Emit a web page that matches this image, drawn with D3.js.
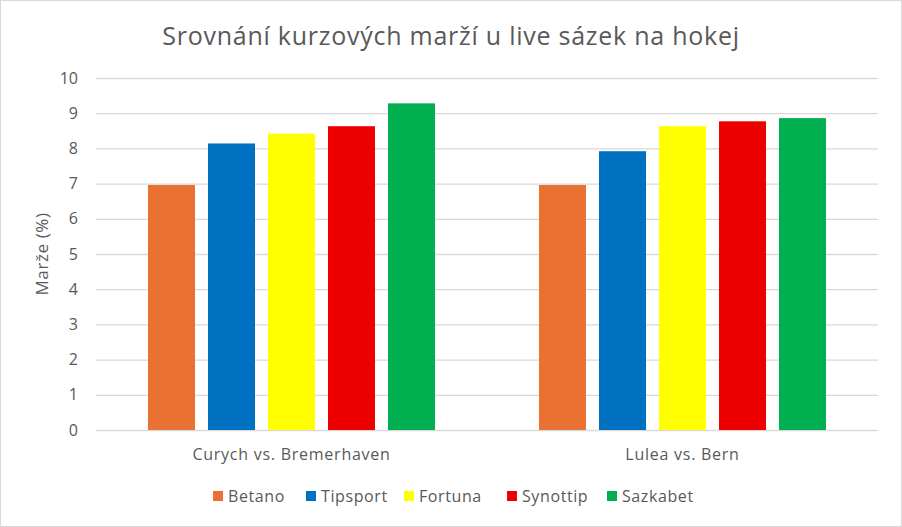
<!DOCTYPE html>
<html>
<head>
<meta charset="utf-8">
<title>Srovnání kurzových marží</title>
<style>
  body { margin: 0; background: #fff; }
  text { font-family: "Open Sans", "Noto Sans", sans-serif; fill: #595959; }
</style>
</head>
<body>
<script src="https://cdn.jsdelivr.net/npm/d3@7/dist/d3.min.js"></script>
<script>
var width = 902, height = 527;

// data
var categories = ["Curych vs. Bremerhaven", "Lulea vs. Bern"];
var series = ["Betano", "Tipsport", "Fortuna", "Synottip", "Sazkabet"];
var colors = ["#E97132", "#0070C0", "#FFFF00", "#EE0000", "#00B050"];
var values = {
    "Betano":   [6.96, 6.96],
    "Tipsport": [8.14, 7.92],
    "Fortuna":  [8.42, 8.63],
    "Synottip": [8.63, 8.77],
    "Sazkabet": [9.28, 8.86]
};
var yTicks = [0, 1, 2, 3, 4, 5, 6, 7, 8, 9, 10];

var svg = d3.select("body").append("svg")
    .attr("width", width)
    .attr("height", height);

// chart border
svg.append("rect")
    .attr("x", 0.5).attr("y", 0.5)
    .attr("width", width - 1).attr("height", height - 1)
    .attr("fill", "#fff")
    .attr("stroke", "#d9d9d9");

var margin = { left: 96, right: 24, top: 78, bottom: 97 };
var plotRight = width - margin.right;
var plotBottom = height - margin.bottom;

var y = d3.scaleLinear().domain([0, 10]).range([plotBottom, margin.top]);
var x0 = d3.scaleBand().domain(categories).range([margin.left, plotRight]);
var x1 = d3.scaleBand().domain(series).range([0, x0.bandwidth()])
    .paddingInner(0.217).paddingOuter(0.867);

// gridlines + tick labels
var yAxis = d3.axisLeft(y).tickValues(yTicks)
    .tickSize(-(plotRight - margin.left)).tickPadding(18);
var gy = svg.append("g").attr("transform", "translate(" + margin.left + ",0)").call(yAxis);
gy.select(".domain").remove();
gy.selectAll(".tick line").attr("stroke", "#d9d9d9").attr("stroke-width", 1.3);
gy.selectAll(".tick text").style("font-size", "16px").attr("fill", "#595959");

// bars
var rows = [];
categories.forEach(function (c, ci) {
    series.forEach(function (s, si) {
        rows.push({ cat: c, name: s, value: values[s][ci], color: colors[si] });
    });
});
svg.append("g").selectAll("rect")
    .data(rows)
    .enter()
    .append("rect")
    .attr("x", d => x0(d.cat) + x1(d.name))
    .attr("y", d => y(d.value))
    .attr("width", x1.bandwidth())
    .attr("height", d => plotBottom - y(d.value))
    .attr("fill", d => d.color);

// category labels
svg.append("g").selectAll("text")
    .data(categories)
    .enter()
    .append("text")
    .attr("x", d => x0(d) + x0.bandwidth() / 2)
    .attr("y", 460)
    .attr("text-anchor", "middle")
    .style("font-size", "16px")
    .style("letter-spacing", "0.75px")
    .text(d => d);

// title
svg.append("text")
    .attr("x", width / 2)
    .attr("y", 45)
    .attr("text-anchor", "middle")
    .style("font-size", "25px")
    .style("letter-spacing", "0.75px")
    .text("Srovnání kurzových marží u live sázek na hokej");

// y label
svg.append("text")
    .attr("transform", "translate(48," + ((margin.top + plotBottom) / 2) + ") rotate(-90)")
    .attr("text-anchor", "middle")
    .style("font-size", "17px")
    .style("letter-spacing", "0.6px")
    .text("Marže (%)");

// legend
var legendX = [213, 306, 404, 507, 607];
var lg = svg.append("g").selectAll("g")
    .data(series)
    .enter()
    .append("g")
    .attr("transform", (d, i) => "translate(" + legendX[i] + ",491)");
lg.append("rect")
    .attr("width", 10).attr("height", 10)
    .attr("fill", (d, i) => colors[i]);
lg.append("text")
    .attr("x", 15).attr("y", 10.5)
    .style("font-size", "16px")
    .style("letter-spacing", "0.6px")
    .text(d => d);
</script>
</body>
</html>
